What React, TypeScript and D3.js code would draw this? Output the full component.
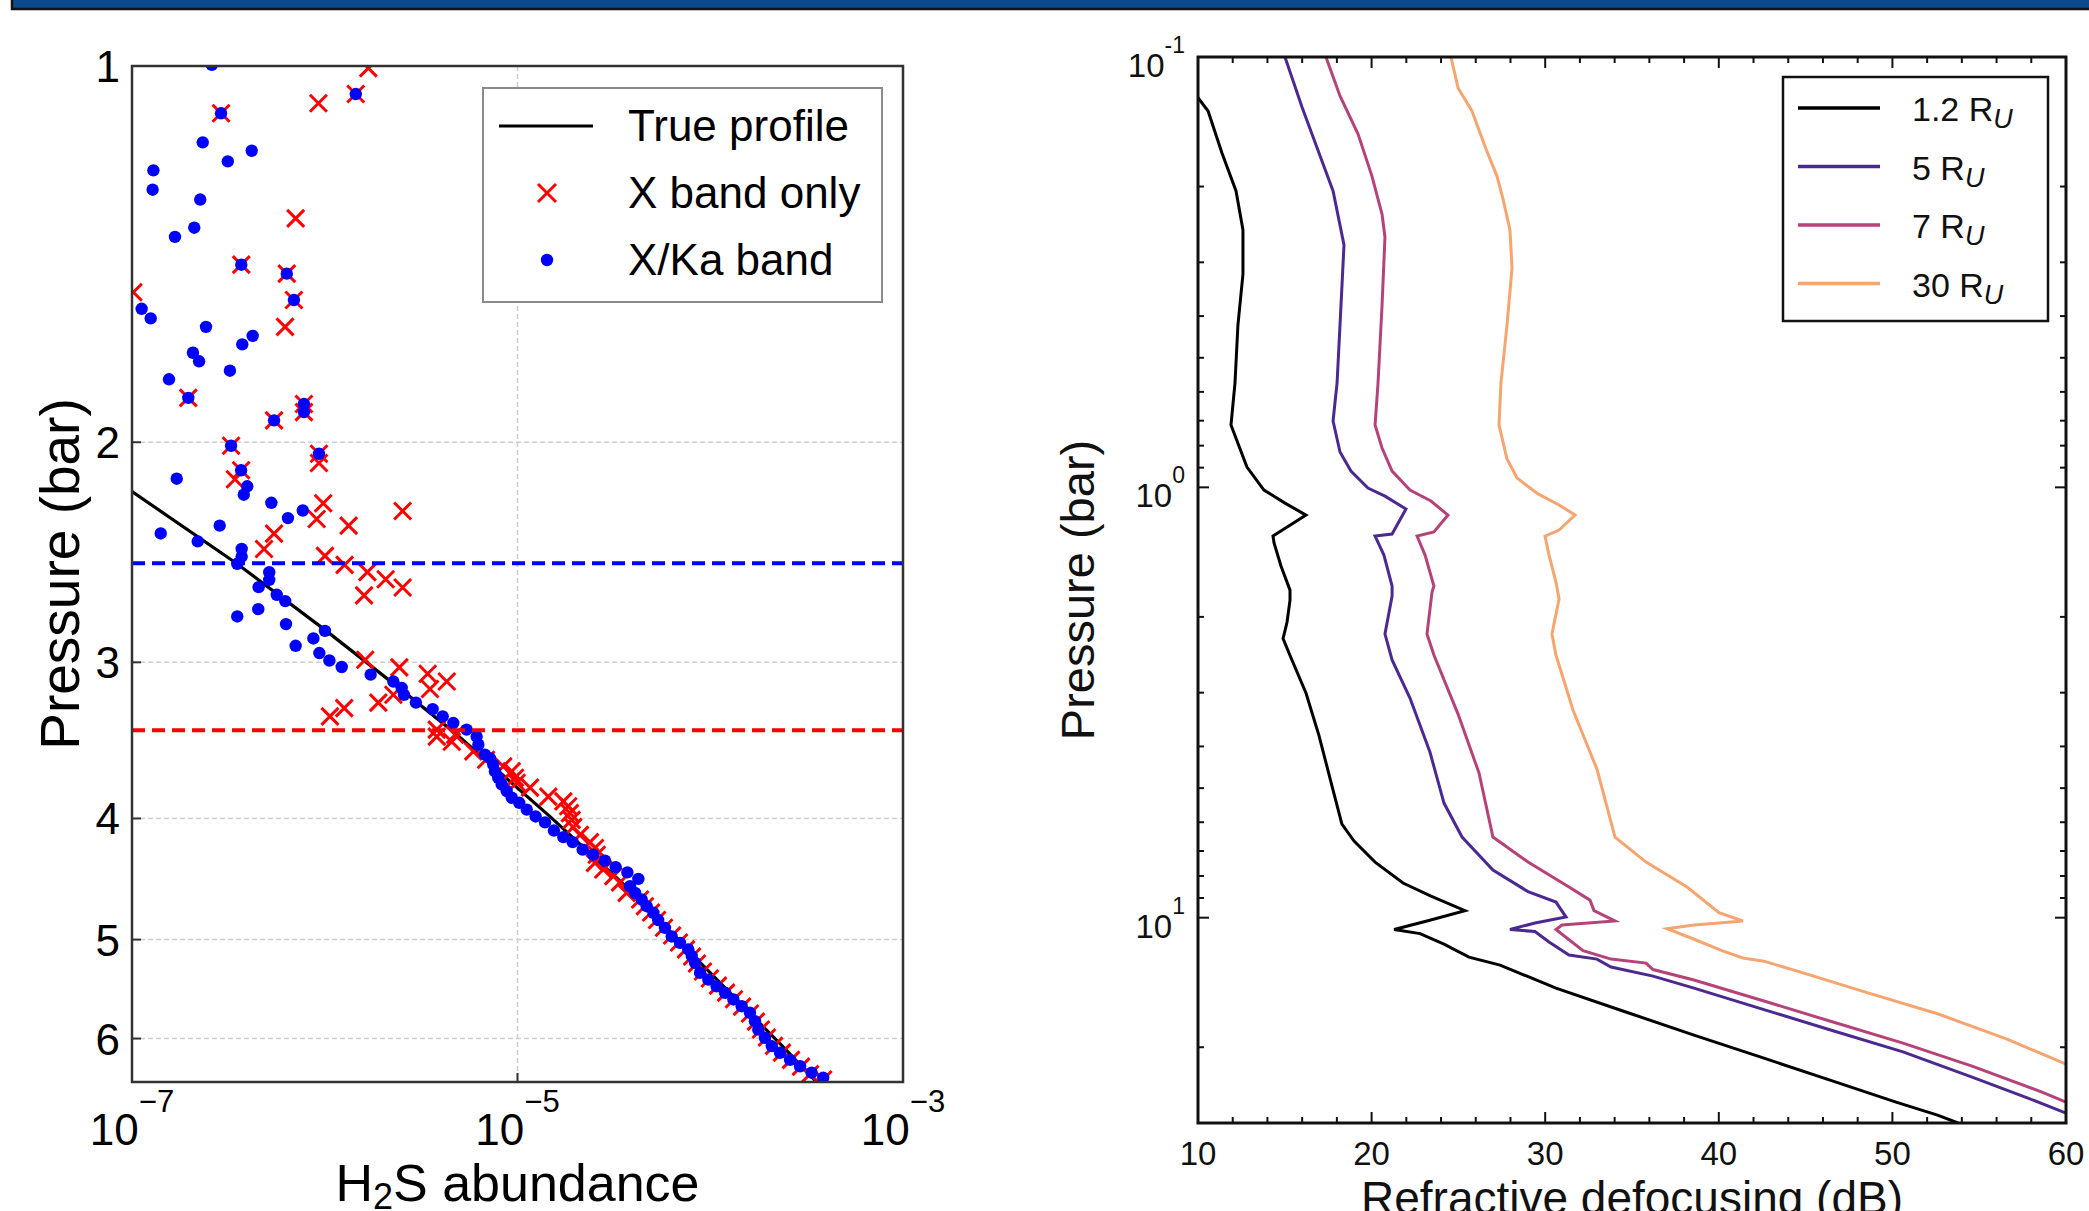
import React from "react";
import * as d3 from "d3";

const W = 2089;
const H = 1211;
const FONT = "'Liberation Sans', Arial, Helvetica, sans-serif";

// ---------- left panel: H2S retrieval ----------
const pressureTicks = [1, 2, 3, 4, 5, 6];
const abundanceExpTicks = [-7, -5, -3]; // log10 of abundance
const blueCutoffP = 2.5;
const redCutoffP = 3.4;

// [log10 abundance, pressure bar]
const trueProfile: [number, number][] = [
  [-7.0, 2.19], [-6.455, 2.502], [-5.999, 2.826], [-5.61, 3.149], [-5.314, 3.428],
  [-4.831, 3.986], [-4.432, 4.542], [-4.038, 5.244], [-3.623, 6.09], [-3.451, 6.495],
];

const xBandOnly: [number, number][] = [
  [-5.774, 1.004], [-5.839, 1.053], [-6.033, 1.071], [-6.538, 1.091], [-6.151, 1.324],
  [-6.433, 1.442], [-6.197, 1.466], [-6.993, 1.517], [-6.16, 1.539], [-6.206, 1.617],
  [-6.708, 1.843], [-6.108, 1.864], [-6.108, 1.892], [-6.263, 1.921], [-6.486, 2.013],
  [-6.03, 2.043], [-6.03, 2.078], [-6.434, 2.106], [-6.466, 2.141], [-6.008, 2.238],
  [-5.596, 2.27], [-6.042, 2.304], [-5.876, 2.332], [-6.263, 2.367], [-6.315, 2.435],
  [-5.999, 2.466], [-5.897, 2.507], [-5.779, 2.541], [-5.684, 2.574], [-5.596, 2.614],
  [-5.796, 2.652], [-5.79, 2.986], [-5.613, 3.028], [-5.466, 3.064], [-5.367, 3.108],
  [-5.454, 3.151], [-5.644, 3.185], [-5.722, 3.231], [-5.899, 3.264], [-5.973, 3.314],
  [-5.419, 3.396], [-5.419, 3.44], [-5.324, 3.428], [-5.341, 3.473], [-5.229, 3.535],
  [-5.163, 3.59], [-5.074, 3.634], [-5.03, 3.667], [-5.013, 3.711], [-5.004, 3.745],
  [-4.935, 3.779], [-4.84, 3.842], [-4.762, 3.876], [-4.737, 3.911], [-4.728, 3.961],
  [-4.719, 4.01], [-4.711, 4.064], [-4.676, 4.123], [-4.624, 4.178], [-4.598, 4.224],
  [-4.589, 4.276], [-4.598, 4.341], [-4.555, 4.394], [-4.503, 4.448], [-4.468, 4.5],
  [-4.434, 4.588], [-4.364, 4.644], [-4.339, 4.702], [-4.307, 4.757], [-4.276, 4.823],
  [-4.24, 4.892], [-4.198, 4.962], [-4.162, 5.027], [-4.126, 5.091], [-4.094, 5.158],
  [-4.069, 5.225], [-4.038, 5.303], [-4.002, 5.372], [-3.96, 5.442], [-3.918, 5.513],
  [-3.877, 5.581], [-3.835, 5.657], [-3.794, 5.73], [-3.763, 5.816], [-3.737, 5.901],
  [-3.706, 5.989], [-3.669, 6.082], [-3.628, 6.158], [-3.581, 6.24], [-3.529, 6.318],
  [-3.482, 6.406], [-3.414, 6.47],
];

const xKaBand: [number, number][] = [
  [-6.586, 0.998], [-5.839, 1.053], [-6.538, 1.091], [-6.633, 1.151], [-6.379, 1.169],
  [-6.503, 1.192], [-6.889, 1.212], [-6.893, 1.256], [-6.646, 1.279], [-6.677, 1.347],
  [-6.777, 1.37], [-6.433, 1.442], [-6.197, 1.466], [-6.16, 1.539], [-6.95, 1.564],
  [-6.903, 1.592], [-6.616, 1.617], [-6.374, 1.644], [-6.428, 1.67], [-6.684, 1.696],
  [-6.652, 1.723], [-6.492, 1.753], [-6.808, 1.781], [-6.708, 1.843], [-6.108, 1.864],
  [-6.108, 1.892], [-6.263, 1.921], [-6.486, 2.013], [-6.03, 2.043], [-6.434, 2.106],
  [-6.768, 2.139], [-6.402, 2.169], [-6.42, 2.203], [-6.277, 2.236], [-6.114, 2.268],
  [-6.191, 2.3], [-6.545, 2.332], [-6.851, 2.366], [-6.659, 2.401], [-6.431, 2.434],
  [-6.431, 2.469], [-6.454, 2.502], [-6.288, 2.541], [-6.288, 2.577], [-6.343, 2.612],
  [-6.249, 2.649], [-6.205, 2.68], [-6.345, 2.72], [-6.454, 2.757], [-6.201, 2.796],
  [-5.999, 2.831], [-6.059, 2.871], [-6.151, 2.91], [-6.028, 2.949], [-5.976, 2.99],
  [-5.912, 3.026], [-5.762, 3.069], [-5.644, 3.108], [-5.601, 3.145], [-5.589, 3.185],
  [-5.527, 3.231], [-5.44, 3.27], [-5.388, 3.314], [-5.333, 3.355], [-5.264, 3.396],
  [-5.212, 3.44], [-5.203, 3.492], [-5.169, 3.556], [-5.143, 3.579], [-5.126, 3.622],
  [-5.117, 3.667], [-5.1, 3.711], [-5.082, 3.757], [-5.056, 3.803], [-5.03, 3.85],
  [-4.991, 3.886], [-4.952, 3.935], [-4.906, 3.985], [-4.857, 4.029], [-4.811, 4.09],
  [-4.762, 4.14], [-4.714, 4.178], [-4.662, 4.236], [-4.607, 4.276], [-4.546, 4.323],
  [-4.491, 4.375], [-4.43, 4.418], [-4.373, 4.471], [-4.416, 4.532], [-4.39, 4.588],
  [-4.356, 4.644], [-4.33, 4.702], [-4.295, 4.759], [-4.27, 4.823], [-4.235, 4.893],
  [-4.2, 4.971], [-4.157, 5.03], [-4.114, 5.091], [-4.096, 5.154], [-4.079, 5.218],
  [-4.053, 5.315], [-4.01, 5.383], [-3.967, 5.449], [-3.923, 5.515], [-3.88, 5.583],
  [-3.837, 5.653], [-3.794, 5.722], [-3.768, 5.811], [-3.751, 5.901], [-3.716, 5.993],
  [-3.681, 6.084], [-3.638, 6.159], [-3.586, 6.24], [-3.534, 6.314], [-3.474, 6.39],
  [-3.414, 6.45],
];

// ---------- right panel: refractive defocusing ----------
const defocusTicks = [10, 20, 30, 40, 50, 60];
const pressureExpTicks = [-1, 0, 1];
const orbitLabels = ["1.2", "5", "7", "30"];
const orbitColors = ["#000000", "#4b2991", "#b5437a", "#f6a570"];

// [dB, pressure bar]
const defocus12: [number, number][] = [
  [10.0, 0.1243], [10.58, 0.1335], [11.38, 0.1671], [12.19, 0.2048], [12.59, 0.2523],
  [12.59, 0.3194], [12.3, 0.4196], [12.13, 0.5723], [11.9, 0.7165], [12.82, 0.8971],
  [13.8, 1.015], [15.01, 1.088], [16.22, 1.16], [15.41, 1.217], [14.32, 1.298],
  [14.38, 1.347], [14.78, 1.523], [15.3, 1.733], [15.3, 1.828], [15.13, 2.056],
  [14.9, 2.246], [15.41, 2.519], [16.22, 3.006], [16.97, 3.774], [17.72, 4.946],
  [18.29, 6.061], [18.99, 6.638], [20.2, 7.427], [21.81, 8.309], [23.42, 8.908],
  [25.38, 9.627], [23.19, 10.18], [21.3, 10.65], [22.79, 10.89], [24.17, 11.52],
  [25.61, 12.35], [27.4, 12.89], [30.62, 14.58], [34.6, 16.54], [38.57, 18.75],
  [42.6, 21.2], [46.58, 23.98], [50.21, 26.83], [52.6, 28.76], [53.78, 30.0],
];
const defocus5: [number, number][] = [
  [15.01, 0.1], [15.99, 0.1307], [16.97, 0.1671], [17.78, 0.2048], [18.41, 0.2734],
  [18.18, 0.4196], [18.01, 0.5723], [17.78, 0.7013], [18.18, 0.8279], [18.81, 0.9166],
  [19.79, 1.004], [20.77, 1.048], [21.98, 1.123], [21.18, 1.284], [20.2, 1.298],
  [20.71, 1.437], [21.18, 1.696], [21.18, 1.789], [20.77, 2.192], [21.18, 2.519],
  [22.21, 3.088], [23.36, 4.122], [24.17, 5.416], [25.21, 6.496], [26.99, 7.752],
  [29.01, 8.698], [30.62, 9.198], [31.2, 9.968], [29.41, 10.29], [27.97, 10.65],
  [29.41, 10.77], [30.22, 11.39], [31.37, 12.21], [32.98, 12.48], [33.79, 13.02],
  [36.21, 13.67], [38.57, 14.58], [42.6, 16.35], [46.58, 18.31], [50.61, 20.5],
  [54.59, 23.47], [57.81, 26.26], [60.0, 28.46],
];
const defocus7: [number, number][] = [
  [17.37, 0.1], [18.18, 0.1232], [19.22, 0.151], [20.02, 0.1891], [20.6, 0.2317],
  [20.77, 0.2619], [20.6, 0.3791], [20.37, 0.5723], [20.2, 0.7165], [20.6, 0.8101],
  [21.18, 0.9166], [22.21, 1.015], [23.42, 1.076], [24.4, 1.16], [23.59, 1.27],
  [22.62, 1.298], [23.08, 1.437], [23.59, 1.696], [23.48, 1.751], [23.19, 2.192],
  [23.59, 2.453], [24.98, 3.364], [26.19, 4.613], [26.99, 6.496], [29.01, 7.427],
  [31.37, 8.489], [32.58, 9.103], [32.81, 9.627], [34.02, 10.18], [30.97, 10.4],
  [30.62, 10.65], [32.18, 11.93], [33.79, 12.48], [35.81, 12.75], [36.21, 13.2],
  [38.57, 13.96], [42.6, 15.62], [46.58, 17.48], [50.61, 19.56], [54.59, 22.13],
  [58.62, 25.43], [60.0, 26.83],
];
const defocus30: [number, number][] = [
  [24.57, 0.1], [24.98, 0.118], [25.78, 0.1335], [26.59, 0.1636], [27.22, 0.1891],
  [27.57, 0.2138], [27.97, 0.2523], [28.09, 0.3092], [27.8, 0.4196], [27.45, 0.5723],
  [27.34, 0.7165], [27.8, 0.8594], [28.38, 0.9514], [29.59, 1.036], [30.8, 1.099],
  [31.72, 1.16], [30.8, 1.257], [29.99, 1.298], [30.22, 1.437], [30.62, 1.66],
  [30.8, 1.818], [30.39, 2.192], [30.62, 2.453], [31.6, 3.292], [32.98, 4.515],
  [34.02, 6.496], [35.81, 7.427], [38.17, 8.489], [40.01, 9.737], [41.39, 10.18],
  [38.57, 10.4], [37.02, 10.61], [38.4, 11.15], [40.18, 11.93], [41.39, 12.41],
  [42.6, 12.62], [44.62, 13.35], [48.59, 14.95], [52.6, 16.72], [56.6, 19.15],
  [60.0, 21.89],
];
const defocusSeries = [defocus12, defocus5, defocus7, defocus30];

const LP = { x0: 132, x1: 903, y0: 66, y1: 1082 };
const RP = { x0: 1198, x1: 2066, y0: 57, y1: 1123 };

const xMark = (s: number) => `M${-s},${-s}L${s},${s}M${-s},${s}L${s},${-s}`;

export default function App() {
  // scales
  const xL = d3.scaleLinear().domain([-7, -3]).range([LP.x0, LP.x1]);
  const yL = d3.scaleLog().domain([1, 6.5]).range([LP.y0, LP.y1]);
  const xR = d3.scaleLinear().domain([10, 60]).range([RP.x0, RP.x1]);
  const yR = d3.scaleLog().domain([0.1, 30]).range([RP.y0, RP.y1]);

  const lineL = d3
    .line<[number, number]>()
    .x((d) => xL(d[0]))
    .y((d) => yL(d[1]));
  const lineR = d3
    .line<[number, number]>()
    .x((d) => xR(d[0]))
    .y((d) => yR(d[1]));

  const rMinorX = xR.ticks(25);
  const rMinorY = yR.ticks();

  return (
    <svg
      width={W}
      height={H}
      style={{ position: "absolute", left: 0, top: 0, display: "block", background: "#fff" }}
      fontFamily={FONT}
    >
      <rect width={W} height={H} fill="#fff" />
      {/* header strip */}
      <rect x={12} y={-4} width={W} height={13} fill="#0b4a8c" stroke="#111" strokeWidth={2.5} />

      <defs>
        <clipPath id="clipL">
          <rect x={LP.x0} y={LP.y0} width={LP.x1 - LP.x0} height={LP.y1 - LP.y0} />
        </clipPath>
        <clipPath id="clipR">
          <rect x={RP.x0} y={RP.y0} width={RP.x1 - RP.x0} height={RP.y1 - RP.y0} />
        </clipPath>
      </defs>

      {/* ===== left panel ===== */}
      <g>
        {pressureTicks.slice(1).map((p) => (
          <line key={"gh" + p} x1={LP.x0} x2={LP.x1} y1={yL(p)} y2={yL(p)}
            stroke="#cfcfcf" strokeWidth={1.5} strokeDasharray="5 3" />
        ))}
        <line x1={xL(-5)} x2={xL(-5)} y1={LP.y0} y2={LP.y1}
          stroke="#cfcfcf" strokeWidth={1.5} strokeDasharray="5 3" />

        <g clipPath="url(#clipL)">
          <path d={lineL(trueProfile) || ""} fill="none" stroke="#000" strokeWidth={3.2} />
          {xBandOnly.map((d, i) => (
            <path key={"r" + i} d={xMark(8.5)} transform={`translate(${xL(d[0])},${yL(d[1])})`}
              stroke="#ff0000" strokeWidth={3} fill="none" />
          ))}
          {xKaBand.map((d, i) => (
            <circle key={"b" + i} cx={xL(d[0])} cy={yL(d[1])} r={6.2} fill="#0000ff" />
          ))}
          <line x1={LP.x0} x2={LP.x1} y1={yL(blueCutoffP)} y2={yL(blueCutoffP)}
            stroke="#0000ff" strokeWidth={4} strokeDasharray="13 7" />
          <line x1={LP.x0} x2={LP.x1} y1={yL(redCutoffP)} y2={yL(redCutoffP)}
            stroke="#ff0000" strokeWidth={4} strokeDasharray="13 7" />
        </g>

        <rect x={LP.x0} y={LP.y0} width={LP.x1 - LP.x0} height={LP.y1 - LP.y0}
          fill="none" stroke="#333" strokeWidth={2.5} />

        {/* ticks */}
        {pressureTicks.map((p) => (
          <line key={"yt" + p} x1={LP.x0} x2={LP.x0 + 9} y1={yL(p)} y2={yL(p)} stroke="#333" strokeWidth={2} />
        ))}
        {abundanceExpTicks.map((e) => (
          <line key={"xt" + e} x1={xL(e)} x2={xL(e)} y1={LP.y1} y2={LP.y1 - 9} stroke="#333" strokeWidth={2} />
        ))}

        {pressureTicks.map((p) => (
          <text key={"yl" + p} x={LP.x0 - 12} y={yL(p) + 16} fontSize={44} textAnchor="end" fill="#000">
            {p}
          </text>
        ))}
        {abundanceExpTicks.map((e) => (
          <text key={"xl" + e} x={xL(e)} y={1145} fontSize={44} textAnchor="middle" fill="#000">
            10
            <tspan fontSize={31} dy={-33}>{"\u2212" + Math.abs(e)}</tspan>
          </text>
        ))}

        <text x={(LP.x0 + LP.x1) / 2} y={1201} fontSize={52} textAnchor="middle" fill="#000">
          H<tspan fontSize={36} dy={8}>2</tspan>
          <tspan dy={-8}>S abundance</tspan>
        </text>
        <text transform={`translate(79,${(LP.y0 + LP.y1) / 2}) rotate(-90)`} fontSize={55}
          textAnchor="middle" fill="#000">
          Pressure (bar)
        </text>

        {/* legend */}
        <g>
          <rect x={483} y={88} width={399} height={214} fill="#fff" stroke="#8a8a8a" strokeWidth={2} />
          <line x1={499} x2={593} y1={126} y2={126} stroke="#000" strokeWidth={3.2} />
          <path d={xMark(9)} transform="translate(547,193)" stroke="#ff0000" strokeWidth={3} fill="none" />
          <circle cx={547} cy={260} r={6.2} fill="#0000ff" />
          {["True profile", "X band only", "X/Ka band"].map((t, i) => (
            <text key={t} x={628} y={126 + i * 67 + 15} fontSize={44} fill="#000">
              {t}
            </text>
          ))}
        </g>
      </g>

      {/* ===== right panel ===== */}
      <g>
        <g clipPath="url(#clipR)">
          {defocusSeries.map((s, i) => (
            <path key={"c" + i} d={lineR(s) || ""} fill="none" stroke={orbitColors[i]}
              strokeWidth={3} strokeLinejoin="miter" />
          ))}
        </g>

        {/* minor/major ticks on all sides, inward */}
        {rMinorX.map((v) => {
          const major = v % 10 === 0;
          const len = major ? 11 : 6;
          return (
            <g key={"rx" + v}>
              <line x1={xR(v)} x2={xR(v)} y1={RP.y1} y2={RP.y1 - len} stroke="#111" strokeWidth={2} />
              <line x1={xR(v)} x2={xR(v)} y1={RP.y0} y2={RP.y0 + len} stroke="#111" strokeWidth={2} />
            </g>
          );
        })}
        {rMinorY.map((v) => {
          const lg = Math.log10(v);
          const major = Math.abs(lg - Math.round(lg)) < 1e-9;
          const len = major ? 11 : 6;
          return (
            <g key={"ry" + v}>
              <line x1={RP.x0} x2={RP.x0 + len} y1={yR(v)} y2={yR(v)} stroke="#111" strokeWidth={2} />
              <line x1={RP.x1} x2={RP.x1 - len} y1={yR(v)} y2={yR(v)} stroke="#111" strokeWidth={2} />
            </g>
          );
        })}

        <rect x={RP.x0} y={RP.y0} width={RP.x1 - RP.x0} height={RP.y1 - RP.y0}
          fill="none" stroke="#111" strokeWidth={3} />

        {defocusTicks.map((v) => (
          <text key={"rxl" + v} x={xR(v)} y={1165} fontSize={33} textAnchor="middle" fill="#111">
            {v}
          </text>
        ))}
        {pressureExpTicks.map((e) => (
          <text key={"ryl" + e} x={RP.x0 - 13} y={yR(Math.pow(10, e)) + 20} fontSize={33}
            textAnchor="end" fill="#111">
            10
            <tspan fontSize={23} dy={-24}>{e < 0 ? "-" + Math.abs(e) : String(e)}</tspan>
          </text>
        ))}

        <text x={(RP.x0 + RP.x1) / 2} y={1214} fontSize={46} textAnchor="middle" fill="#111">
          Refractive defocusing (dB)
        </text>
        <text transform={`translate(1094,${(RP.y0 + RP.y1) / 2}) rotate(-90)`} fontSize={47}
          textAnchor="middle" fill="#111">
          Pressure (bar)
        </text>

        {/* legend */}
        <g>
          <rect x={1783} y={77} width={265} height={244} fill="#fff" stroke="#111" strokeWidth={2.5} />
          {orbitLabels.map((lab, i) => {
            const ry = 108 + i * 58.5;
            return (
              <g key={"lg" + lab}>
                <line x1={1798} x2={1880} y1={ry} y2={ry} stroke={orbitColors[i]} strokeWidth={3.5} />
                <text x={1912} y={ry + 13} fontSize={34} fill="#111">
                  {lab} R
                  <tspan fontSize={27} fontStyle="italic" dy={7}>U</tspan>
                </text>
              </g>
            );
          })}
        </g>
      </g>
    </svg>
  );
}
